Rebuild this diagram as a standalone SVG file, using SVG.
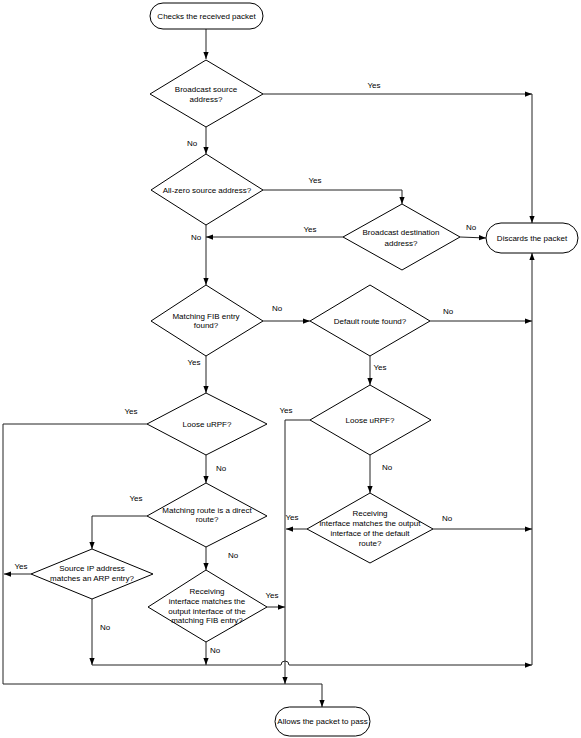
<svg xmlns="http://www.w3.org/2000/svg" width="581" height="738" viewBox="0 0 581 738">
<style>
.shape{fill:#fff;stroke:#000;stroke-width:1}
.ln{fill:none;stroke:#222;stroke-width:1}
text{font-family:"Liberation Sans",Arial,sans-serif;font-size:8px;fill:#000;text-anchor:middle}
</style>
<defs>
<marker id="ah" viewBox="0 0 8 6" refX="8" refY="3" markerWidth="7" markerHeight="6" markerUnits="userSpaceOnUse" orient="auto">
<path d="M0,0 L8,3 L0,6 Z" fill="#000"/>
</marker>
</defs>
<rect width="581" height="738" fill="#fff"/>
<g id="connectors">
<path class="ln" d="M206,29 V59" marker-end="url(#ah)"/>
<path class="ln" d="M263,94 H532" marker-end="url(#ah)"/>
<path class="ln" d="M532,94 V223" marker-end="url(#ah)"/>
<path class="ln" d="M206,127 V154" marker-end="url(#ah)"/>
<path class="ln" d="M263,190 H402 V204" marker-end="url(#ah)"/>
<path class="ln" d="M343,237 H206" marker-end="url(#ah)"/>
<path class="ln" d="M460,237 L486,238" marker-end="url(#ah)"/>
<path class="ln" d="M206,225 V285" marker-end="url(#ah)"/>
<path class="ln" d="M263,321 H310" marker-end="url(#ah)"/>
<path class="ln" d="M430,321 H532" marker-end="url(#ah)"/>
<path class="ln" d="M532,665 V253" marker-end="url(#ah)"/>
<path class="ln" d="M206,356 V393" marker-end="url(#ah)"/>
<path class="ln" d="M370,356 V385" marker-end="url(#ah)"/>
<path class="ln" d="M147,424 H3 V684 H322 V707" marker-end="url(#ah)"/>
<path class="ln" d="M206,455 V483" marker-end="url(#ah)"/>
<path class="ln" d="M147,516 H92 V549" marker-end="url(#ah)"/>
<path class="ln" d="M31,574 H4" marker-end="url(#ah)"/>
<path class="ln" d="M92,599 V665" marker-end="url(#ah)"/>
<path class="ln" d="M206,547 V570" marker-end="url(#ah)"/>
<path class="ln" d="M267,607 H285" marker-end="url(#ah)"/>
<path class="ln" d="M206,642 V665" marker-end="url(#ah)"/>
<path class="ln" d="M310,420 H285 V684" marker-end="url(#ah)"/>
<path class="ln" d="M370,455 V493" marker-end="url(#ah)"/>
<path class="ln" d="M307,529 H286" marker-end="url(#ah)"/>
<path class="ln" d="M433,529 H532" marker-end="url(#ah)"/>
<path class="ln" d="M92,665 H281 A4,4 0 0 1 289,665 H532" marker-end="url(#ah)"/>
</g>
<g id="start">
<rect class="shape" x="150" y="3" width="113" height="26" rx="13"/>
<text x="206.5" y="19">Checks the received packet</text>
</g>
<g id="d-broadcast-src">
<polygon class="shape" points="206,60 263,94 206,127 150,94"/>
<text x="206" y="92">Broadcast source</text>
<text x="206" y="102">address?</text>
</g>
<g id="d-allzero">
<polygon class="shape" points="206,154 263,190 206,225 151,190"/>
<text x="207" y="193">All-zero source address?</text>
</g>
<g id="d-broadcast-dst">
<polygon class="shape" points="402,204 460,237 402,270 343,237"/>
<text x="401" y="235">Broadcast destination</text>
<text x="401" y="246">address?</text>
</g>
<g id="discard">
<rect class="shape" x="486" y="223" width="92" height="30" rx="15"/>
<text x="532" y="241">Discards the packet</text>
</g>
<g id="d-fib">
<polygon class="shape" points="206,285 263,321 206,356 151,321"/>
<text x="206" y="319">Matching FIB entry</text>
<text x="206" y="328">found?</text>
</g>
<g id="d-default">
<polygon class="shape" points="370,285 430,321 370,356 310,321"/>
<text x="370" y="324">Default route found?</text>
</g>
<g id="d-loose1">
<polygon class="shape" points="206,393 267,424 206,455 147,424"/>
<text x="207" y="427">Loose uRPF?</text>
</g>
<g id="d-loose2">
<polygon class="shape" points="370,385 431,420 370,455 310,420"/>
<text x="370" y="423">Loose uRPF?</text>
</g>
<g id="d-direct">
<polygon class="shape" points="206,483 267,516 206,547 147,516"/>
<text x="207" y="513">Matching route is a direct</text>
<text x="207" y="522">route?</text>
</g>
<g id="d-arp">
<polygon class="shape" points="92,549 153,574 92,599 31,574"/>
<text x="92" y="571">Source IP address</text>
<text x="92" y="581">matches an ARP entry?</text>
</g>
<g id="d-recv-fib">
<polygon class="shape" points="206,570 267,607 206,642 148,607"/>
<text x="207" y="594">Receiving</text>
<text x="207" y="604">interface matches the</text>
<text x="207" y="614">output interface of the</text>
<text x="207" y="623">matching FIB entry?</text>
</g>
<g id="d-recv-default">
<polygon class="shape" points="370,493 433,529 370,563 307,529"/>
<text x="370" y="516">Receiving</text>
<text x="370" y="526">interface matches the output</text>
<text x="370" y="536">interface of the default</text>
<text x="370" y="546">route?</text>
</g>
<g id="allow">
<rect class="shape" x="275" y="707" width="95" height="29" rx="14.5"/>
<text x="322.5" y="724">Allows the packet to pass</text>
</g>
<g id="labels">
<text x="374" y="88">Yes</text>
<text x="192" y="146">No</text>
<text x="315" y="183">Yes</text>
<text x="310" y="232">Yes</text>
<text x="196" y="240">No</text>
<text x="471" y="230">No</text>
<text x="277" y="311">No</text>
<text x="448" y="314">No</text>
<text x="194" y="365">Yes</text>
<text x="380" y="370">Yes</text>
<text x="286" y="413">Yes</text>
<text x="131" y="414">Yes</text>
<text x="221" y="471">No</text>
<text x="387" y="470">No</text>
<text x="136" y="501">Yes</text>
<text x="292" y="520">Yes</text>
<text x="447" y="521">No</text>
<text x="233" y="558">No</text>
<text x="21" y="569">Yes</text>
<text x="272" y="598">Yes</text>
<text x="105" y="630">No</text>
<text x="215" y="653">No</text>
</g>
</svg>
